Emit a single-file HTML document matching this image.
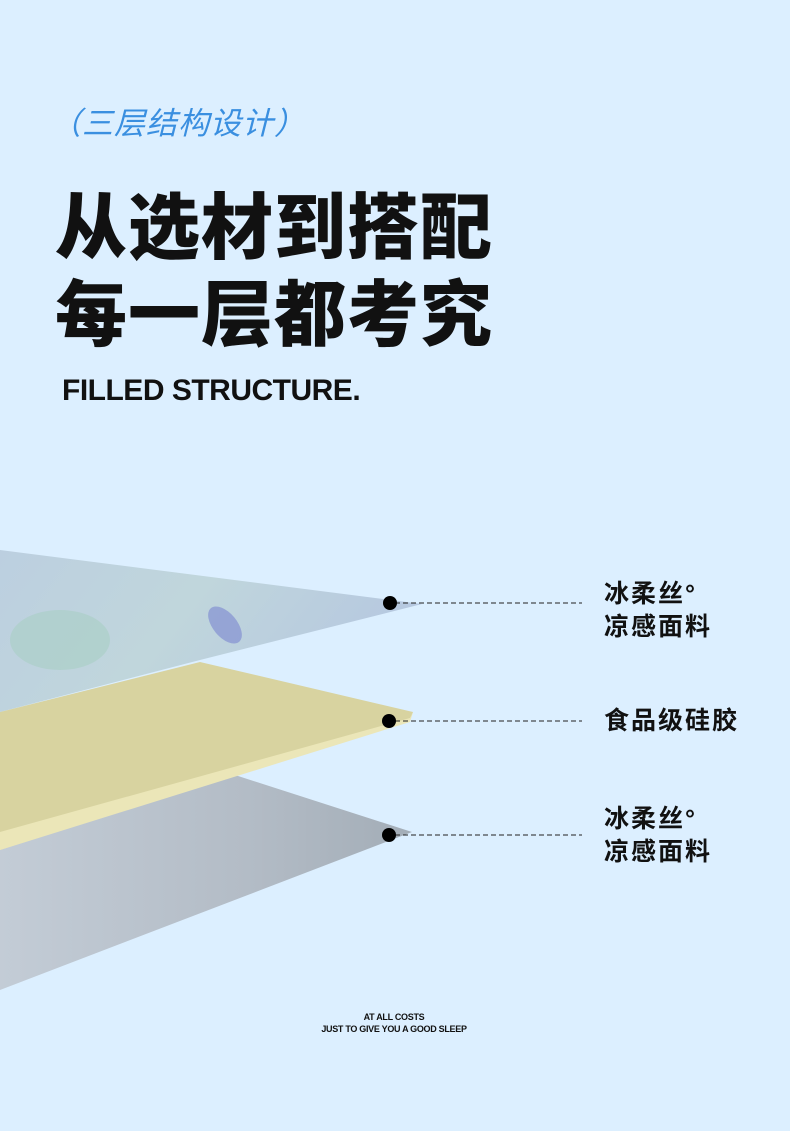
<!DOCTYPE html>
<html><head><meta charset="utf-8"><style>
body{margin:0;width:790px;height:1131px;background:#dcefff;position:relative;overflow:hidden;font-family:"Liberation Sans","Noto Sans CJK SC",sans-serif}
.a{position:absolute;white-space:nowrap}
.sub{left:50px;top:98px;font-size:31px;color:#3a8fe0;letter-spacing:1px;font-style:italic}
.t{left:55px;font-size:72px;font-weight:900;color:#111;letter-spacing:1px;line-height:1}
.en{left:62px;top:374px;font-size:30px;font-weight:bold;color:#111;letter-spacing:-0.5px}
.lb{left:604px;font-size:25px;font-weight:bold;color:#111;line-height:33px;letter-spacing:2px}
.ft{left:0;width:790px;text-align:center;font-size:9px;color:#111;font-weight:bold;letter-spacing:-0.3px}
</style></head><body>
<div class="a sub">（三层结构设计）</div>
<div class="a t" style="top:193px">从选材到搭配</div>
<div class="a t" style="top:280px">每一层都考究</div>
<div class="a en">FILLED STRUCTURE.</div>
<svg class="a" style="left:0;top:0" width="790" height="1131">
<defs>
<linearGradient id="g1" x1="0" y1="0" x2="1" y2="0.3"><stop offset="0" stop-color="#bccfe0"/><stop offset="0.5" stop-color="#c0d6dc"/><stop offset="1" stop-color="#b6c8e0"/></linearGradient>
<linearGradient id="g3" x1="0" y1="0" x2="1" y2="0"><stop offset="0" stop-color="#c3ccd6"/><stop offset="0.6" stop-color="#b3bcc6"/><stop offset="1" stop-color="#a3adb7"/></linearGradient>
</defs>
<polygon points="0,550 422,604 200,660 0,712" fill="url(#g1)"/>
<ellipse cx="225" cy="625" rx="22" ry="12" fill="#7a86d0" opacity=".6" transform="rotate(50 225 625)"/>
<ellipse cx="60" cy="640" rx="50" ry="30" fill="#a8cfc4" opacity=".6"/>
<polygon points="0,850 235,775 412,832 0,990" fill="url(#g3)"/>
<polygon points="0,712 200,662 413,712 410,720 0,850" fill="#d8d3a0"/>
<polygon points="0,832 410,718 413,712 410,722 0,850" fill="#ebe6b8"/>
<g stroke="#222" stroke-width="1" stroke-dasharray="5,3">
<line x1="395" y1="603" x2="582" y2="603"/><line x1="395" y1="721" x2="582" y2="721"/><line x1="395" y1="835" x2="582" y2="835"/>
</g>
<circle cx="390" cy="603" r="7" fill="#000"/><circle cx="389" cy="721" r="7" fill="#000"/><circle cx="389" cy="835" r="7" fill="#000"/>
</svg>
<div class="a lb" style="top:578px">冰柔丝°<br>凉感面料</div>
<div class="a lb" style="top:705px">食品级硅胶</div>
<div class="a lb" style="top:803px">冰柔丝°<br>凉感面料</div>
<div class="a ft" style="top:1012px;left:-1px">AT ALL COSTS</div>
<div class="a ft" style="top:1024px;left:-1px">JUST TO GIVE YOU A GOOD SLEEP</div>
</body></html>
